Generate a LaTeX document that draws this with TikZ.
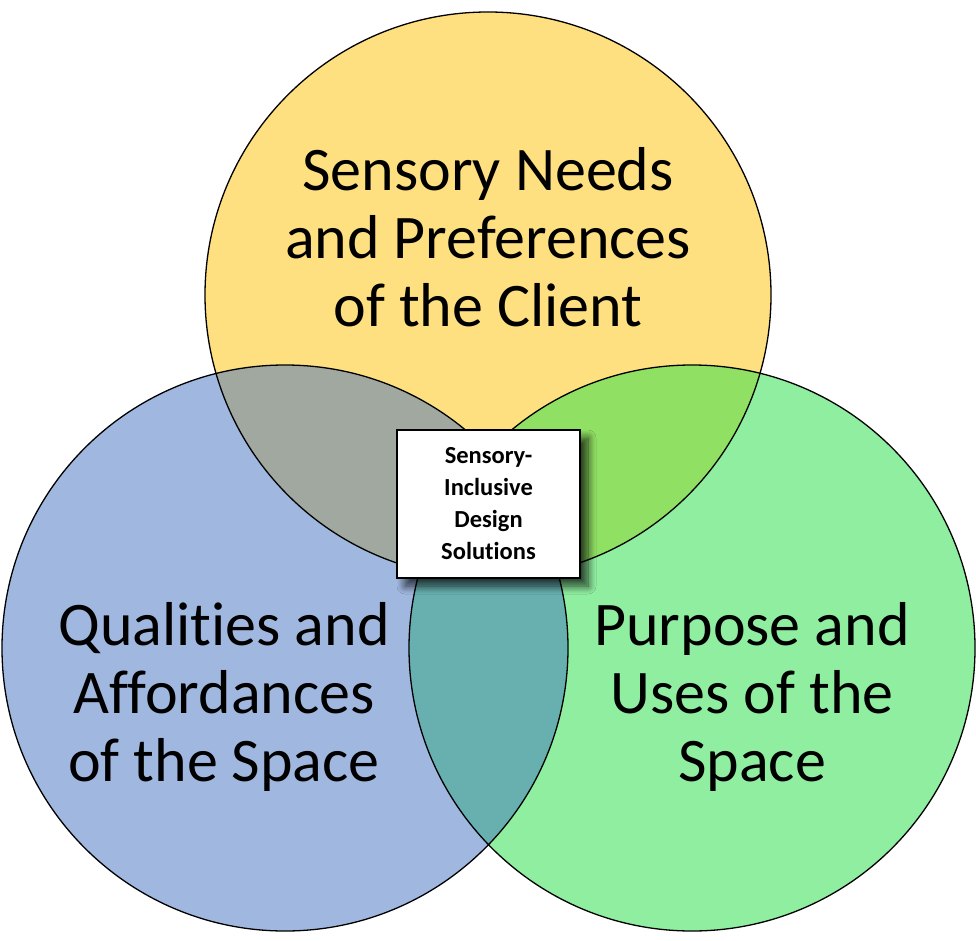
\documentclass[tikz,border=0pt]{standalone}
\usepackage{fontspec}
\setmainfont{Carlito}[RawFeature={-liga}]
\usetikzlibrary{shadows.blur}
\definecolor{cyellow}{RGB}{255,224,128}
\definecolor{cblue}{RGB}{160,184,224}
\definecolor{cgreen}{RGB}{144,238,160}
\definecolor{cgray}{RGB}{160,168,160}
\definecolor{cyg}{RGB}{144,224,100}
\definecolor{cteal}{RGB}{104,176,176}
\tikzset{
  ring/.style={draw=black, line width=1.3pt},
  bigtext/.style={align=center, inner sep=0pt, font=\fontsize{62}{68}\selectfont},
  centerbox/.style={draw=black, line width=2.2pt, fill=white, minimum width=183pt, minimum height=148pt,
    blur shadow={shadow xshift=8pt, shadow yshift=-8pt, shadow blur steps=10, shadow blur radius=8pt, shadow opacity=75},
    align=center, font=\bfseries\fontsize{24.5}{32}\selectfont}
}
\begin{document}
\begin{tikzpicture}[x=1pt,y=-1pt]
\useasboundingbox (0,0) rectangle (976,941);
\coordinate (ct) at (488,295);
\coordinate (cl) at (285,648);
\coordinate (cr) at (692,648);
% base fills
\fill[cyellow] (ct) circle[radius=283pt];
\fill[cblue] (cl) circle[radius=283pt];
\fill[cgreen] (cr) circle[radius=283pt];
% overlaps
\begin{scope}
  \clip (ct) circle[radius=283pt];
  \fill[cgray] (cl) circle[radius=283pt];
  \fill[cyg] (cr) circle[radius=283pt];
\end{scope}
\begin{scope}
  \clip (cl) circle[radius=283pt];
  \fill[cteal] (cr) circle[radius=283pt];
\end{scope}
% outlines
\draw[ring] (ct) circle[radius=283pt];
\draw[ring] (cl) circle[radius=283pt];
\draw[ring] (cr) circle[radius=283pt];
% labels
\node[bigtext] (tlabel) at (488,237) {Sensory Needs\\and Preferences\\of the Client};
\node[bigtext] (llabel) at (224,697) {Qualities and\\Affordances\\of the Space};
\node[bigtext] (rlabel) at (752,697) {Purpose and\\Uses of the\\Space};
\node[centerbox] (box) at (488.5,504) {Sensory-\\Inclusive\\Design\\Solutions};
\end{tikzpicture}
\end{document}
